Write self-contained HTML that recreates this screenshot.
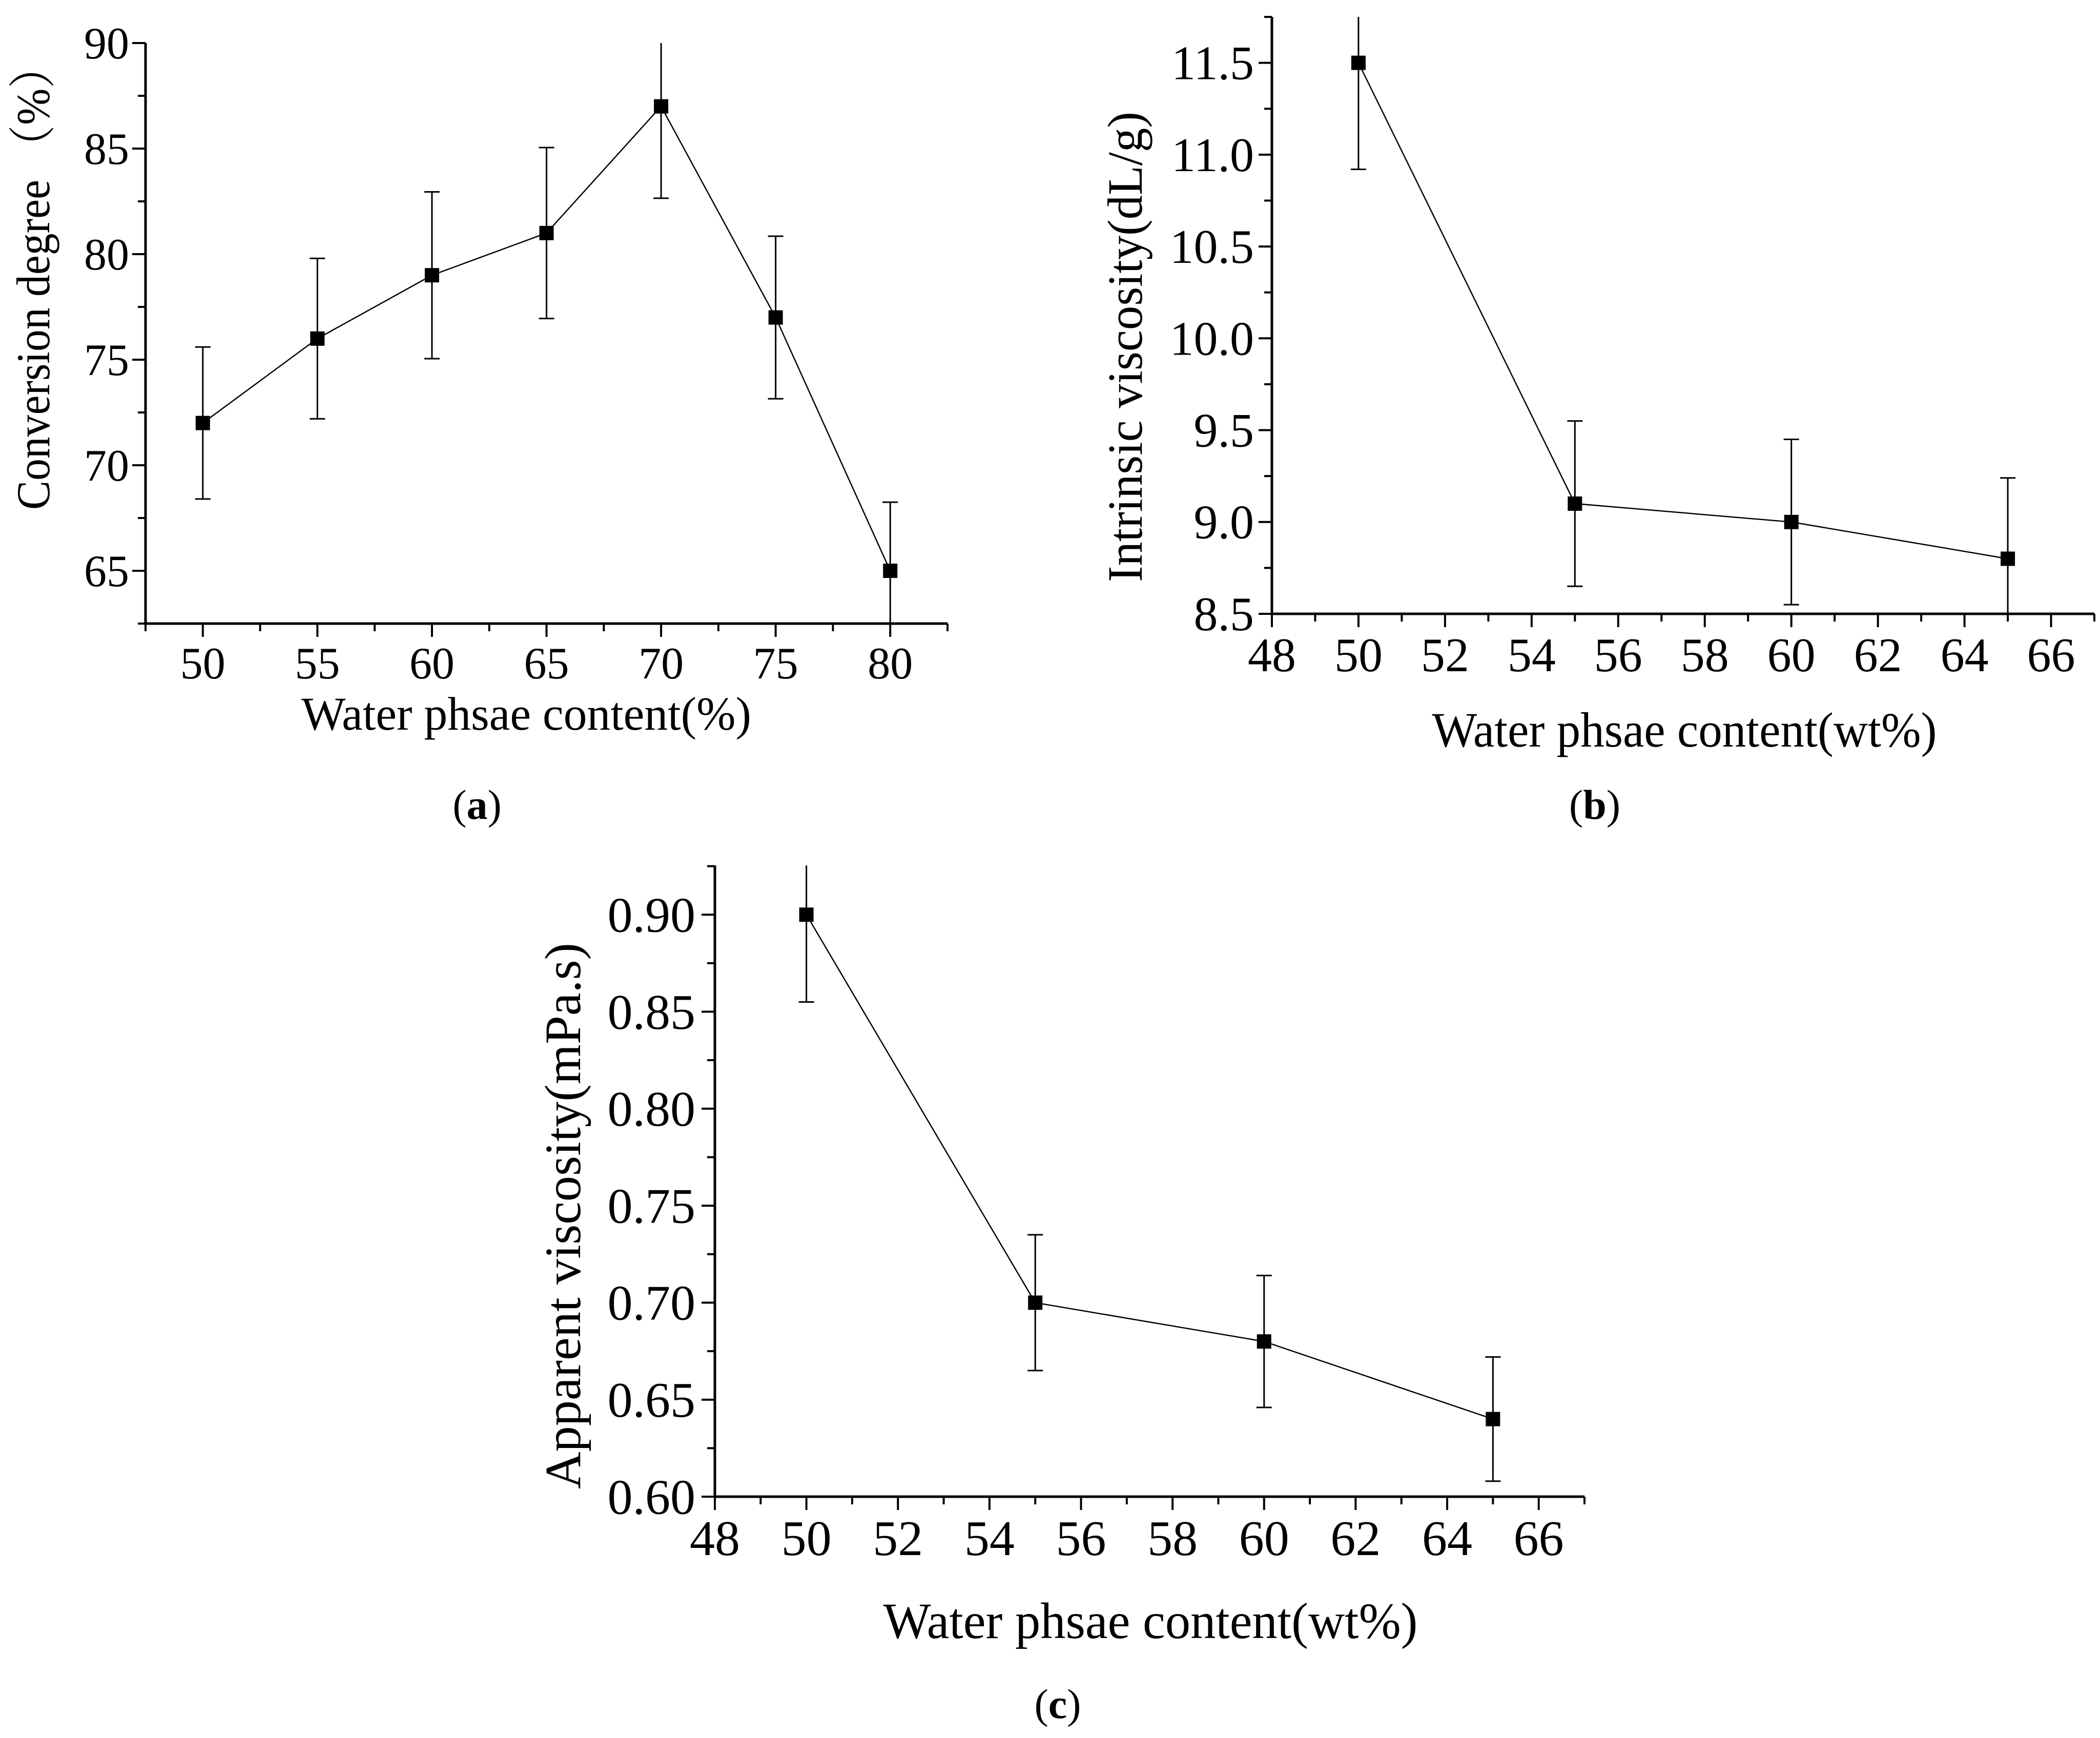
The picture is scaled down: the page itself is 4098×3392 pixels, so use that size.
<!DOCTYPE html>
<html><head><meta charset="utf-8"><style>
html,body{margin:0;padding:0;background:#fff;}
svg{display:block;}
text{font-family:"Liberation Serif","Noto Serif CJK SC",serif;fill:#000;}
</style></head><body>
<svg id="fig" width="4098" height="3392" viewBox="0 0 4098 3392" xmlns="http://www.w3.org/2000/svg"></svg>
<script>
// Panel (a)
const aX = [50, 55, 60, 65, 70, 75, 80];
const aY = [72, 76, 79, 81, 87, 77, 65];
const aErr = [3.6, 3.8, 3.95, 4.05, 4.35, 3.85, 3.25];
const aXTicks = [50, 55, 60, 65, 70, 75, 80];
const aYTicks = [65, 70, 75, 80, 85, 90];
// Panel (b)
const bX = [50, 55, 60, 65];
const bY = [11.5, 9.1, 9.0, 8.8];
const bErr = [0.58, 0.45, 0.45, 0.44];
const bXTicks = [48, 50, 52, 54, 56, 58, 60, 62, 64, 66];
const bYTicks = ["8.5", "9.0", "9.5", "10.0", "10.5", "11.0", "11.5"];
// Panel (c)
const cX = [50, 55, 60, 65];
const cY = [0.90, 0.70, 0.68, 0.64];
const cErr = [0.045, 0.035, 0.034, 0.032];
const cXTicks = [48, 50, 52, 54, 56, 58, 60, 62, 64, 66];
const cYTicks = ["0.60", "0.65", "0.70", "0.75", "0.80", "0.85", "0.90"];

const NS = "http://www.w3.org/2000/svg";
const svg = document.getElementById('fig');
function mk(tag, attrs, parent) {
  const e = document.createElementNS(NS, tag);
  for (const k in attrs) e.setAttribute(k, attrs[k]);
  (parent || svg).appendChild(e);
  return e;
}

function panel(cfg) {
  const g = mk('g', {});
  
  
  const sx = v => cfg.x0 + (v - cfg.xmin) / (cfg.xmax - cfg.xmin) * (cfg.x1 - cfg.x0);
  const sy = v => cfg.y0 - (v - cfg.ymin) / (cfg.ymax - cfg.ymin) * (cfg.y0 - cfg.y1);
  // axes
  const ya = mk('line', {x1: cfg.x0, y1: cfg.y0 + 2, x2: cfg.x0, y2: cfg.y1, stroke: '#000', 'stroke-width': 5}, g);
  
  
  const xa = mk('line', {x1: cfg.x0 - 2, y1: cfg.y0, x2: cfg.x1, y2: cfg.y0, stroke: '#000', 'stroke-width': 5}, g);
  
  
  // x ticks
  for (let v = cfg.xmin; v <= cfg.xmax + 1e-9; v += cfg.xminor) {
    const isMajor = Math.abs(((v - cfg.xTickBase) / cfg.xmajor) - Math.round((v - cfg.xTickBase) / cfg.xmajor)) < 1e-6;
    const t = mk('line', {x1: sx(v), y1: cfg.y0, x2: sx(v), y2: cfg.y0 + (isMajor ? 26 : 15), stroke: '#000', 'stroke-width': 4}, g);
    
    
  }
  for (let v = cfg.ymin; v <= cfg.ymax + 1e-9; v += cfg.yminor) {
    const isMajor = Math.abs(((v - cfg.yTickBase) / cfg.ymajor) - Math.round((v - cfg.yTickBase) / cfg.ymajor)) < 1e-6;
    const t = mk('line', {x1: cfg.x0, y1: sy(v), x2: cfg.x0 - (isMajor ? 26 : 15), y2: sy(v), stroke: '#000', 'stroke-width': 4}, g);
    
    
  }
  cfg.xTicks.forEach(v => {
    const t = mk('text', {x: sx(+v), y: cfg.xLabY, 'font-size': cfg.tickFs, 'text-anchor': 'middle'}, g);
    
    
    t.textContent = v;
  });
  cfg.yTicks.forEach(v => {
    const t = mk('text', {x: cfg.yLabX, y: sy(+v) + cfg.tickFs * 0.34, 'font-size': cfg.tickFs, 'text-anchor': 'end'}, g);
    
    
    t.textContent = v;
  });
  // clip
  const cid = 'clip-' + cfg.name;
  const cp = mk('clipPath', {id: cid}, g);
  mk('rect', {x: cfg.x0, y: cfg.y1, width: cfg.x1 - cfg.x0 + 40, height: cfg.y0 - cfg.y1}, cp);
  const dg = mk('g', {'clip-path': 'url(#' + cid + ')'}, g);
  // line
  const pts = cfg.xs.map((x, i) => sx(x) + ',' + sy(cfg.ys[i])).join(' ');
  const pl = mk('polyline', {points: pts, fill: 'none', stroke: '#000', 'stroke-width': 2.5}, dg);
  
  
  cfg.xs.forEach((x, i) => {
    const px = sx(x), hi = sy(cfg.ys[i] + cfg.err[i]), lo = sy(cfg.ys[i] - cfg.err[i]);
    const e = mk('path', {d: `M${px},${hi}V${lo}M${px - 15},${hi}H${px + 15}M${px - 15},${lo}H${px + 15}`, stroke: '#000', 'stroke-width': 3, fill: 'none'}, dg);
    
    
    const m = mk('rect', {x: px - 14, y: sy(cfg.ys[i]) - 14, width: 28, height: 28, fill: '#000'}, dg);
    
    
  });
  // titles
  const xt = mk('text', {x: cfg.xtX, y: cfg.xtY, 'font-size': cfg.titleFs, 'text-anchor': 'middle', textLength: cfg.xtLen, lengthAdjust: 'spacingAndGlyphs'}, g);
  
  
  xt.textContent = cfg.xTitle;
  const yt = mk('text', {x: 0, y: 0, 'font-size': cfg.titleFs, 'text-anchor': 'middle', textLength: cfg.ytLen, lengthAdjust: 'spacingAndGlyphs', transform: `translate(${cfg.ytX},${cfg.ytY}) rotate(-90)`}, g);
  
  
  yt.textContent = cfg.yTitle;
  const cap = mk('text', {x: cfg.capX, y: cfg.capY, 'font-size': 82, 'text-anchor': 'middle'}, g);
  
  
  cap.innerHTML = '(<tspan font-weight="bold">' + cfg.cap + '</tspan>)';
}

panel({name: 'panel-a', x0: 284, x1: 1849, y0: 1217, y1: 84, xmin: 47.5, xmax: 82.5, ymin: 62.5, ymax: 90,
  xminor: 2.5, xmajor: 5, xTickBase: 50, yminor: 2.5, ymajor: 5, yTickBase: 65,
  xTicks: aXTicks, yTicks: aYTicks, xs: aX, ys: aY, err: aErr, tickFs: 88, xLabY: 1324, yLabX: 252,
  titleFs: 92, xTitle: 'Water phsae content(%)', xtX: 1027, xtY: 1424, xtLen: 878,
  yTitle: 'Conversion degree （%）', ytX: 96, ytY: 541, ytLen: 908, cap: 'a', capX: 931, capY: 1598});
panel({name: 'panel-b', x0: 2482, x1: 4087, y0: 1198, y1: 33, xmin: 48, xmax: 67, ymin: 8.5, ymax: 11.75,
  xminor: 1, xmajor: 2, xTickBase: 48, yminor: 0.25, ymajor: 0.5, yTickBase: 8.5,
  xTicks: bXTicks, yTicks: bYTicks, xs: bX, ys: bY, err: bErr, tickFs: 94, xLabY: 1310, yLabX: 2447,
  titleFs: 96, xTitle: 'Water phsae content(wt%)', xtX: 3287, xtY: 1457, xtLen: 985,
  yTitle: 'Intrinsic viscosity(dL/g)', ytX: 2228, ytY: 677, ytLen: 918, cap: 'b', capX: 3112, capY: 1598});
panel({name: 'panel-c', x0: 1395, x1: 3092, y0: 2921, y1: 1689, xmin: 48, xmax: 67, ymin: 0.6, ymax: 0.9254,
  xminor: 1, xmajor: 2, xTickBase: 48, yminor: 0.025, ymajor: 0.05, yTickBase: 0.6,
  xTicks: cXTicks, yTicks: cYTicks, xs: cX, ys: cY, err: cErr, tickFs: 98, xLabY: 3035, yLabX: 1357,
  titleFs: 100, xTitle: 'Water phsae content(wt%)', xtX: 2245, xtY: 3197, xtLen: 1043,
  yTitle: 'Apparent viscosity(mPa.s)', ytX: 1132, ytY: 2373, ytLen: 1066, cap: 'c', capX: 2064, capY: 3353});
</script>
</body></html>
